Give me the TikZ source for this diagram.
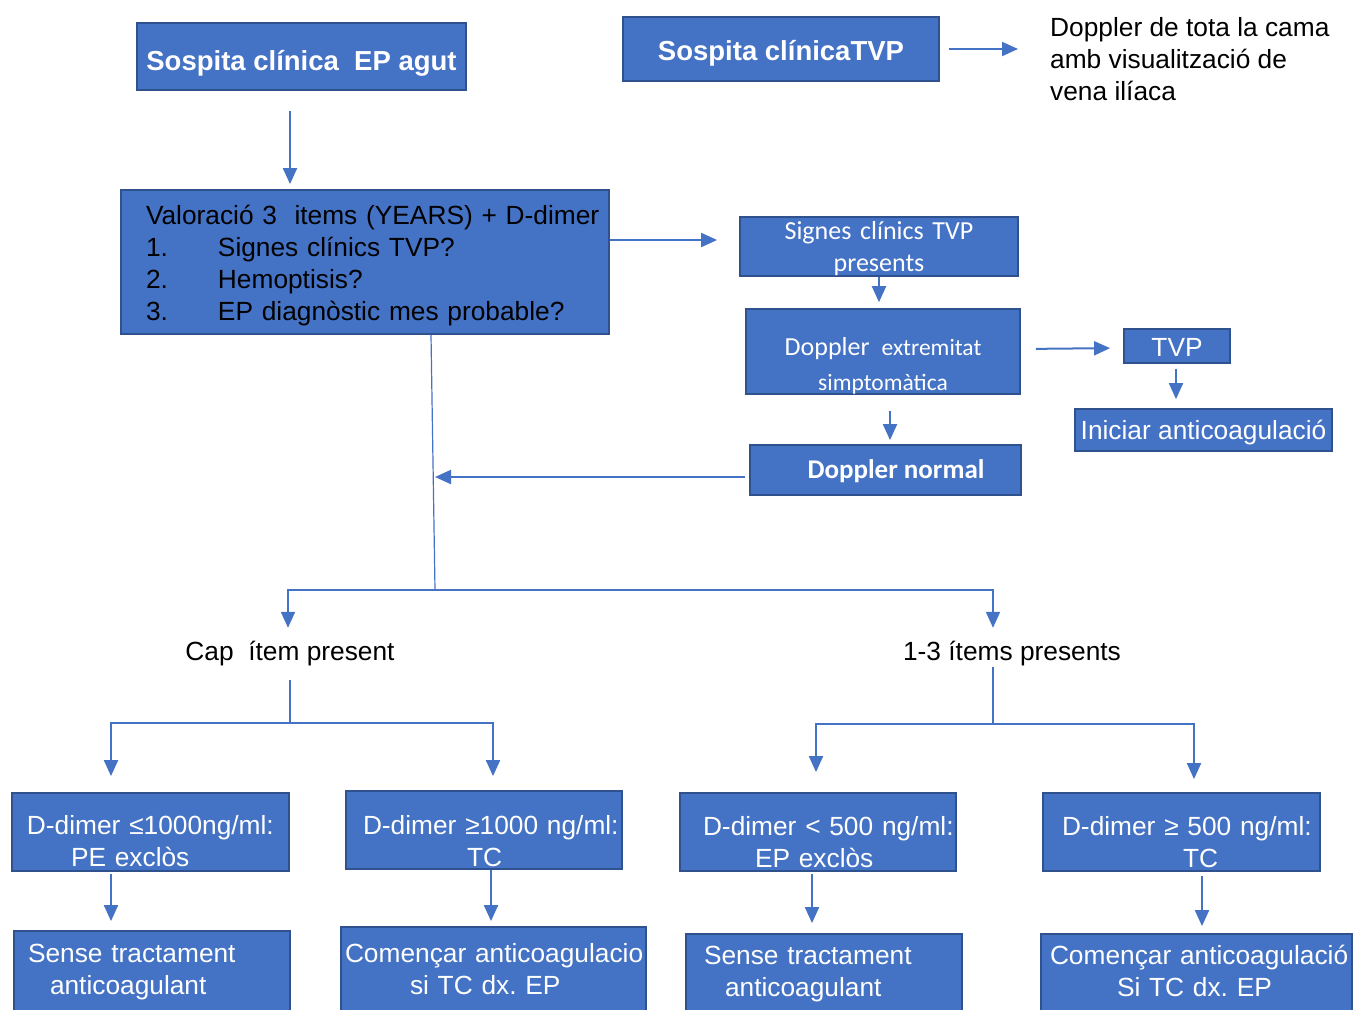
\documentclass[tikz,border=0pt]{standalone}
\usepackage{fontspec}
\setmainfont{Liberation Sans}
\newfontfamily\calibri{Carlito}
\usetikzlibrary{arrows.meta,calc}
\definecolor{boxblue}{HTML}{4472C4}
\definecolor{boxedge}{HTML}{2F528F}
\definecolor{linkblue}{HTML}{4472C4}
\setlength{\parindent}{0pt}
\frenchspacing
\newcommand{\tstrut}[1]{\rule{0pt}{#1pt}}
\newcommand{\bstrut}[1]{\rule[-#1pt]{0pt}{#1pt}}
\newcommand{\ind}[1]{\hspace*{#1pt}}

\begin{document}
\begin{tikzpicture}[x=1pt, y=-1pt,
    box/.style={draw=boxedge, fill=boxblue, line width=1.8pt, inner sep=0pt, text=white,
        font=\fontsize{26.3}{32}\selectfont},
    title/.style={box, font=\bfseries\fontsize{27.5}{32}\selectfont, text depth=6pt},
    plain/.style={inner sep=0pt, font=\fontsize{26.3}{32}\selectfont},
    arr/.style={draw=linkblue, line width=2pt, -{Triangle[length=16pt,width=14pt]}},
    link/.style={draw=linkblue, line width=1.2pt}]
    \useasboundingbox (0,0) rectangle (1353,1010);
    \clip (0,0) rectangle (1353,1010);

    % top row
    \node[title, minimum width=329pt, minimum height=67pt, text height=33pt] (ep) at (301.5,56.5) {Sospita clínica\ \ EP agut};
    \node[title, minimum width=316pt, minimum height=64pt, text height=28pt] (tvp) at (781,49) {Sospita clínicaTVP};
    \node[plain, anchor=west, align=left] (dopcama) at (1050,59) {Doppler de tota la cama\\amb visualització de\\vena ilíaca};

    % YEARS score
    \node[box, text=black, text width=488pt, minimum height=144pt, align=left] (years) at (365,262)
        {\tstrut{27}\ind{25}Valoració 3\ \ items (YEARS) + D-dimer\\
         \ind{25}\makebox[72pt][l]{1.}Signes clínics TVP?\\
         \ind{25}\makebox[72pt][l]{2.}Hemoptisis?\\
         \ind{25}\makebox[72pt][l]{3.}EP diagnòstic mes probable?};

    % TVP branch
    \node[box, font=\calibri\fontsize{26}{32}\selectfont, text width=278pt, minimum height=59pt, align=center] (signes) at (879,246.5)
        {\tstrut{23}Signes clínics TVP\\presents};
    \node[box, font=\calibri\fontsize{26}{35}\selectfont, text width=274pt, minimum height=83pt, align=center] (dopext) at (883,351.5)
        {\tstrut{46}Doppler\hspace{12pt}{\fontsize{23.5}{35}\selectfont extremitat}\\{\fontsize{23.5}{35}\selectfont simptomàtica}};
    \node[box, minimum width=106pt, minimum height=34pt, text height=27pt, text depth=6pt] (dvp) at (1177,346) {TVP};
    \node[box, minimum width=257pt, minimum height=42pt, text height=24pt, text depth=6pt] (anticoag) at (1203.5,430) {Iniciar anticoagulació};
    \node[box, font=\calibri\bfseries\fontsize{27}{32}\selectfont, minimum width=271pt, minimum height=50pt, text height=23.5pt, text depth=6pt] (dopnorm) at (885.5,470)
        {\hspace*{21pt}Doppler normal};

    % outcome of the score
    \node[plain, text height=20pt, text depth=6pt] (none) at (290,653.5) {Cap\ \ ítem present};
    \node[plain, text height=20pt, text depth=6pt] (some) at (1012,653.5) {1-3 ítems presents};

    % D-dimer boxes
    \node[box, text width=277pt, minimum height=78pt, align=left] (dlow1) at (150.5,832)
        {\tstrut{37}\ind{15}D-dimer ≤1000ng/ml:\\\ind{59}PE exclòs};
    \node[box, text width=276pt, minimum height=78pt, align=left] (dhigh1) at (484,830)
        {\tstrut{41}\ind{17}D-dimer ≥1000 ng/ml:\\\ind{121}TC};
    \node[box, text width=276pt, minimum height=78pt, align=left] (dlow2) at (818,832)
        {\tstrut{39}\ind{23}D-dimer < 500 ng/ml:\\\ind{75}EP exclòs};
    \node[box, text width=277pt, minimum height=78pt, align=left] (dhigh2) at (1181.5,832)
        {\tstrut{39}\ind{19}D-dimer ≥ 500 ng/ml:\\\ind{140}TC};

    % treatment boxes (cut by the page edge)
    \node[box, text width=276pt, minimum height=109pt, align=left] (notreat1) at (152,985.5)
        {\ind{14}Sense tractament\\\ind{36}anticoagulant\bstrut{33}};
    \node[box, text width=305pt, minimum height=113pt, align=left] (startac1) at (493.5,983.5)
        {\ind{4}Començar anticoagulacio\\\ind{69}si TC dx. EP\bstrut{29}};
    \node[box, text width=276pt, minimum height=106pt, align=left] (notreat2) at (824,987)
        {\ind{18}Sense tractament\\\ind{39}anticoagulant\bstrut{32}};
    \node[box, text width=311pt, minimum height=106pt, align=left] (startac2) at (1196.5,987)
        {\ind{9}Començar anticoagulació\\\ind{76}Si TC dx. EP\bstrut{33}};

    % connectors, top part
    \coordinate (xa) at (290,0);
    \draw[arr, shorten <=20pt, shorten >=5pt] (ep.south -| xa) -- (years.north -| xa);
    \draw[arr, shorten <=9pt, shorten >=32pt] (tvp.east) -- (tvp.east -| dopcama.west);
    \coordinate (cout) at ([yshift=22pt]years.east);
    \draw[arr, shorten >=22pt] (cout) -- (cout -| signes.west);
    \draw[arr, shorten >=6pt] (signes.south) -- (signes.south |- dopext.north);
    \coordinate (eout) at ([yshift=2.5pt]dopext.east);
    \draw[arr, shorten <=15pt, shorten >=13pt] (eout) -- ([yshift=-2pt]dvp.west);
    \coordinate (fout) at ([xshift=-1pt]dvp.south);
    \draw[arr, shorten <=5pt, shorten >=9pt] (fout) -- (fout |- anticoag.north);
    \coordinate (eoutb) at ([xshift=7pt]dopext.south);
    \draw[arr, shorten <=16pt, shorten >=4pt] (eoutb) -- (eoutb |- dopnorm.north);

    % trunk
    \coordinate (trunk) at (435,590);
    \coordinate (cdown) at ([xshift=66pt]years.south);
    \draw[link] (cdown) -- (trunk);
    \coordinate (hout) at ([yshift=-7pt]dopnorm.west);
    \draw[arr, shorten <=4pt] (hout) -- (hout -| trunk);
    \draw[arr, shorten >=12.5pt] (trunk) -| ([xshift=-2pt]none.north);
    \draw[arr, shorten >=12.5pt] (trunk) -| ([xshift=-19pt]some.north);

    % left subtree
    \coordinate (jl) at (290,723);
    \draw[link, shorten <=13.5pt] (none.south) -- (jl);
    \draw[arr, shorten >=16pt] (jl) -| ([xshift=-39.5pt]dlow1.north);
    \draw[arr, shorten >=14pt] (jl) -| ([xshift=9pt]dhigh1.north);

    % right subtree
    \coordinate (jr) at (993,724);
    \draw[link] ([xshift=-19pt]some.south) -- (jr);
    \draw[arr, shorten >=20pt] (jr) -| ([xshift=-2pt]dlow2.north);
    \draw[arr, shorten >=13pt] (jr) -| ([xshift=12.5pt]dhigh2.north);

    % down to treatment
    \coordinate (i1) at ([xshift=-39.5pt]dlow1.south);
    \draw[arr, shorten <=2pt, shorten >=9pt] (i1) -- (i1 |- notreat1.north);
    \coordinate (i2) at ([xshift=7pt]dhigh1.south);
    \draw[arr, shorten >=5pt] (i2) -- (i2 |- startac1.north);
    \coordinate (i3) at ([xshift=-6pt]dlow2.south);
    \draw[arr, shorten <=2pt, shorten >=10pt] (i3) -- (i3 |- notreat2.north);
    \coordinate (i4) at ([xshift=20.5pt]dhigh2.south);
    \draw[arr, shorten <=4pt, shorten >=7pt] (i4) -- (i4 |- startac2.north);
\end{tikzpicture}
\end{document}
